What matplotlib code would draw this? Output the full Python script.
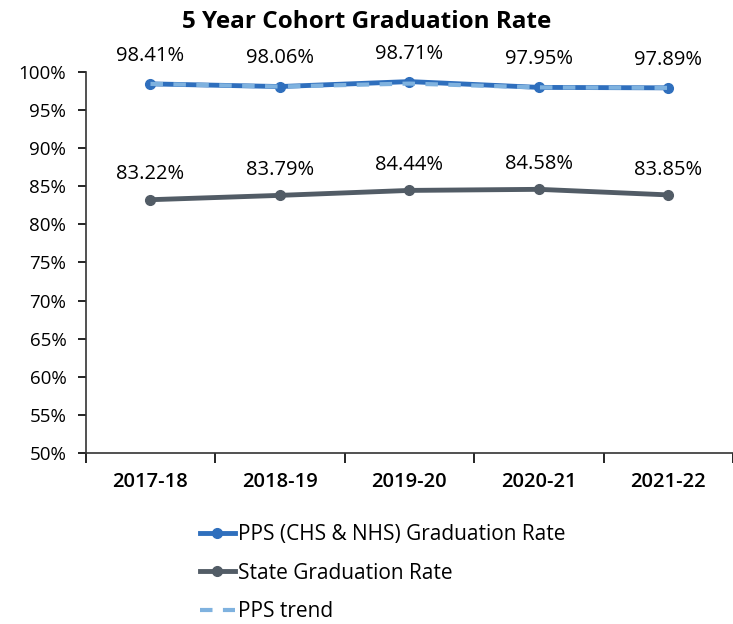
import matplotlib.pyplot as plt
from matplotlib.ticker import PercentFormatter

years = ["2017-18", "2018-19", "2019-20", "2020-21", "2021-22"]
pps_rate = [98.41, 98.06, 98.71, 97.95, 97.89]
state_rate = [83.22, 83.79, 84.44, 84.58, 83.85]
pps_trend = [98.41, 98.06, 98.45, 97.95, 97.89]
y_ticks = [50, 55, 60, 65, 70, 75, 80, 85, 90, 95, 100]

plt.rcParams['font.family'] = ['Open Sans', 'DejaVu Sans']

fig = plt.figure(figsize=(7.33, 6.24), dpi=100)
ax = fig.add_axes([0.117, 0.274, 0.883, 0.611])

x = list(range(len(years)))
ax.plot(x, pps_rate, color="#2f6fbd", lw=3.5, marker="o", ms=7,
        label="PPS (CHS & NHS) Graduation Rate", zorder=3)
ax.plot(x, state_rate, color="#525c66", lw=3.5, marker="o", ms=7,
        label="State Graduation Rate", zorder=3)
ax.plot(x, pps_trend, color="#7fb2df", lw=3, ls=(0, (3, 2.5)),
        label="PPS trend", zorder=4)

for i, v in enumerate(pps_rate):
    ax.annotate(f"{v:.2f}%", (i, v), xytext=(0, 13), textcoords="offset points",
                ha="center", va="bottom", fontsize=14.5, annotation_clip=False)
for i, v in enumerate(state_rate):
    ax.annotate(f"{v:.2f}%", (i, v), xytext=(0, 11), textcoords="offset points",
                ha="center", va="bottom", fontsize=14.5)

ax.set_xlim(-0.5, len(years) - 0.5)
ax.set_ylim(50, 100)
ax.set_yticks(y_ticks)
ax.yaxis.set_major_formatter(PercentFormatter(decimals=0))
ax.set_xticks(x)
ax.set_xticklabels(years, fontweight="semibold")
ax.set_xticks([i + 0.5 for i in range(-1, len(years))], minor=True)
ax.tick_params(axis="x", which="major", length=0, pad=14, labelsize=14.5)
ax.tick_params(axis="x", which="minor", length=7, width=1.2)
ax.tick_params(axis="y", length=6, width=1.2, labelsize=13.5, pad=8)
for s in ["top", "right"]:
    ax.spines[s].set_visible(False)
for s in ["left", "bottom"]:
    ax.spines[s].set_linewidth(1.2)
    ax.spines[s].set_color("#333333")

fig.text(0.5, 0.965, "5 Year Cohort Graduation Rate", ha="center", va="center",
         fontsize=17.5, fontweight="bold")

fig.legend(loc="upper left", bbox_to_anchor=(0.258, 0.177), frameon=False,
           fontsize=15, labelspacing=0.85, handlelength=1.7, handletextpad=0.15,
           borderpad=0)

fig.savefig("out.png", dpi=100)
